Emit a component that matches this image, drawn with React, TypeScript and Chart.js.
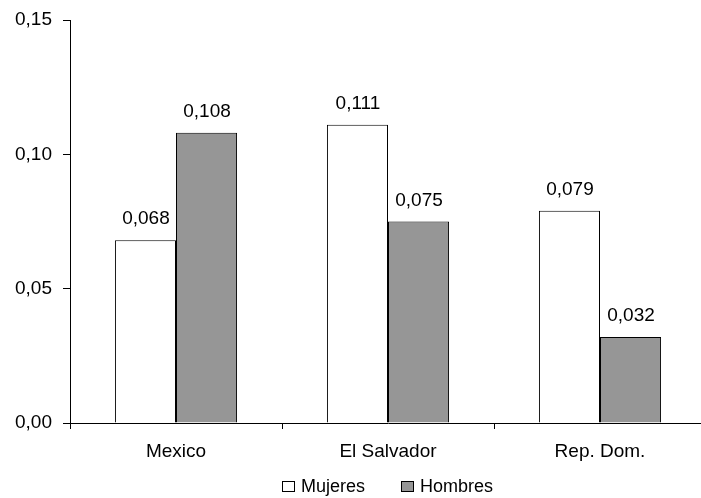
import React, { useEffect, useRef } from "react";
import { Chart, registerables } from "chart.js";

Chart.register(...registerables);

const categories = ["Mexico", "El Salvador", "Rep. Dom."];
const mujeres = [0.068, 0.111, 0.079];
const hombres = [0.108, 0.075, 0.032];
const seriesNames = ["Mujeres", "Hombres"];
const yTicks = [0, 0.05, 0.1, 0.15];

const FONT = "'Liberation Sans', Arial, sans-serif";
const fmt = (v: number, d: number) => v.toFixed(d).replace(".", ",");

const labelsPlugin = {
  id: "barLabels",
  afterDatasetsDraw(chart: any) {
    const ctx = chart.ctx;
    ctx.save();
    ctx.font = `19px ${FONT}`;
    ctx.fillStyle = "#000";
    ctx.textAlign = "center";
    ctx.textBaseline = "alphabetic";
    chart.data.datasets.forEach((ds: any, i: number) => {
      const meta = chart.getDatasetMeta(i);
      meta.data.forEach((bar: any, j: number) => {
        ctx.fillText(fmt(ds.data[j], 3), bar.x + 0.5, bar.y - 16);
      });
    });
    ctx.restore();
  },
  afterDraw(chart: any) {
    const ctx = chart.ctx;
    const area = chart.chartArea;
    ctx.save();
    ctx.font = `18px ${FONT}`;
    ctx.textBaseline = "middle";
    ctx.textAlign = "left";
    const boxW = 12;
    const boxH = 10;
    const gapBox = 7;
    const gapItem = 36;
    const items = chart.data.datasets.map((ds: any) => ({
      label: ds.label,
      color: ds.backgroundColor,
      w: boxW + gapBox + ctx.measureText(ds.label).width,
    }));
    const total = items.reduce((s: number, it: any) => s + it.w, 0) + gapItem * (items.length - 1);
    let x = Math.round((area.left + area.right) / 2 - total / 2);
    const y = 486;
    items.forEach((it: any) => {
      const bx = Math.round(x);
      ctx.fillStyle = it.color;
      ctx.fillRect(bx, y - 5, boxW, boxH);
      ctx.strokeStyle = "#000";
      ctx.lineWidth = 1;
      ctx.strokeRect(bx + 0.5, y - 5 + 0.5, boxW, boxH);
      ctx.fillStyle = "#000";
      ctx.fillText(it.label, x + boxW + gapBox, y + 1);
      x += it.w + gapItem;
    });
    ctx.restore();
  },
};

export default function App() {
  const ref = useRef<HTMLCanvasElement | null>(null);
  useEffect(() => {
    document.documentElement.style.overflow = "hidden";
    document.body.style.overflow = "hidden";
    const canvas = ref.current!;
    const chart = new Chart(canvas, {
      type: "bar",
      data: {
        labels: categories,
        datasets: [
          {
            label: seriesNames[0],
            data: mujeres,
            backgroundColor: "#ffffff",
            borderColor: "#000000",
            borderWidth: 1,
          },
          {
            label: seriesNames[1],
            data: hombres,
            backgroundColor: "#969696",
            borderColor: "#000000",
            borderWidth: 1,
          },
        ],
      },
      options: {
        responsive: false,
        animation: false,
        devicePixelRatio: 1,
        layout: { padding: { left: 0, top: 20, right: 6, bottom: 0 } },
        plugins: {
          legend: { display: false },
          tooltip: { enabled: false },
        },
        datasets: {
          bar: { categoryPercentage: 0.576, barPercentage: 1.0 },
        },
        scales: {
          x: {
            grid: {
              display: true,
              drawOnChartArea: false,
              drawTicks: true,
              tickLength: 6,
              color: "#000",
              offset: true,
            },
            border: { display: true, color: "#000", width: 1 },
            ticks: {
              color: "#000",
              font: { family: FONT, size: 19 },
              padding: 11,
              maxRotation: 0,
            },
            afterFit(scale: any) {
              scale.height = 75;
              scale.paddingLeft = 0;
              scale.paddingRight = 0;
            },
          },
          y: {
            min: 0,
            max: 0.15,
            afterBuildTicks(scale: any) {
              scale.ticks = yTicks.map((v) => ({ value: v }));
            },
            grid: {
              display: true,
              drawOnChartArea: false,
              drawTicks: true,
              tickLength: 7,
              color: "#000",
            },
            border: { display: true, color: "#000", width: 1 },
            ticks: {
              color: "#000",
              font: { family: FONT, size: 19 },
              padding: 11,
              callback: (v: any) => fmt(Number(v), 2),
            },
            afterFit(scale: any) {
              scale.width = 70;
              scale.paddingTop = 0;
              scale.paddingBottom = 0;
            },
          },
        },
      },
      plugins: [labelsPlugin],
    });
    return () => chart.destroy();
  }, []);
  return (
    <div style={{ position: "absolute", left: 0, top: 0, width: 712, height: 498, background: "#fff" }}>
      <canvas ref={ref} width={712} height={498} style={{ display: "block", width: 712, height: 498 }} />
    </div>
  );
}
